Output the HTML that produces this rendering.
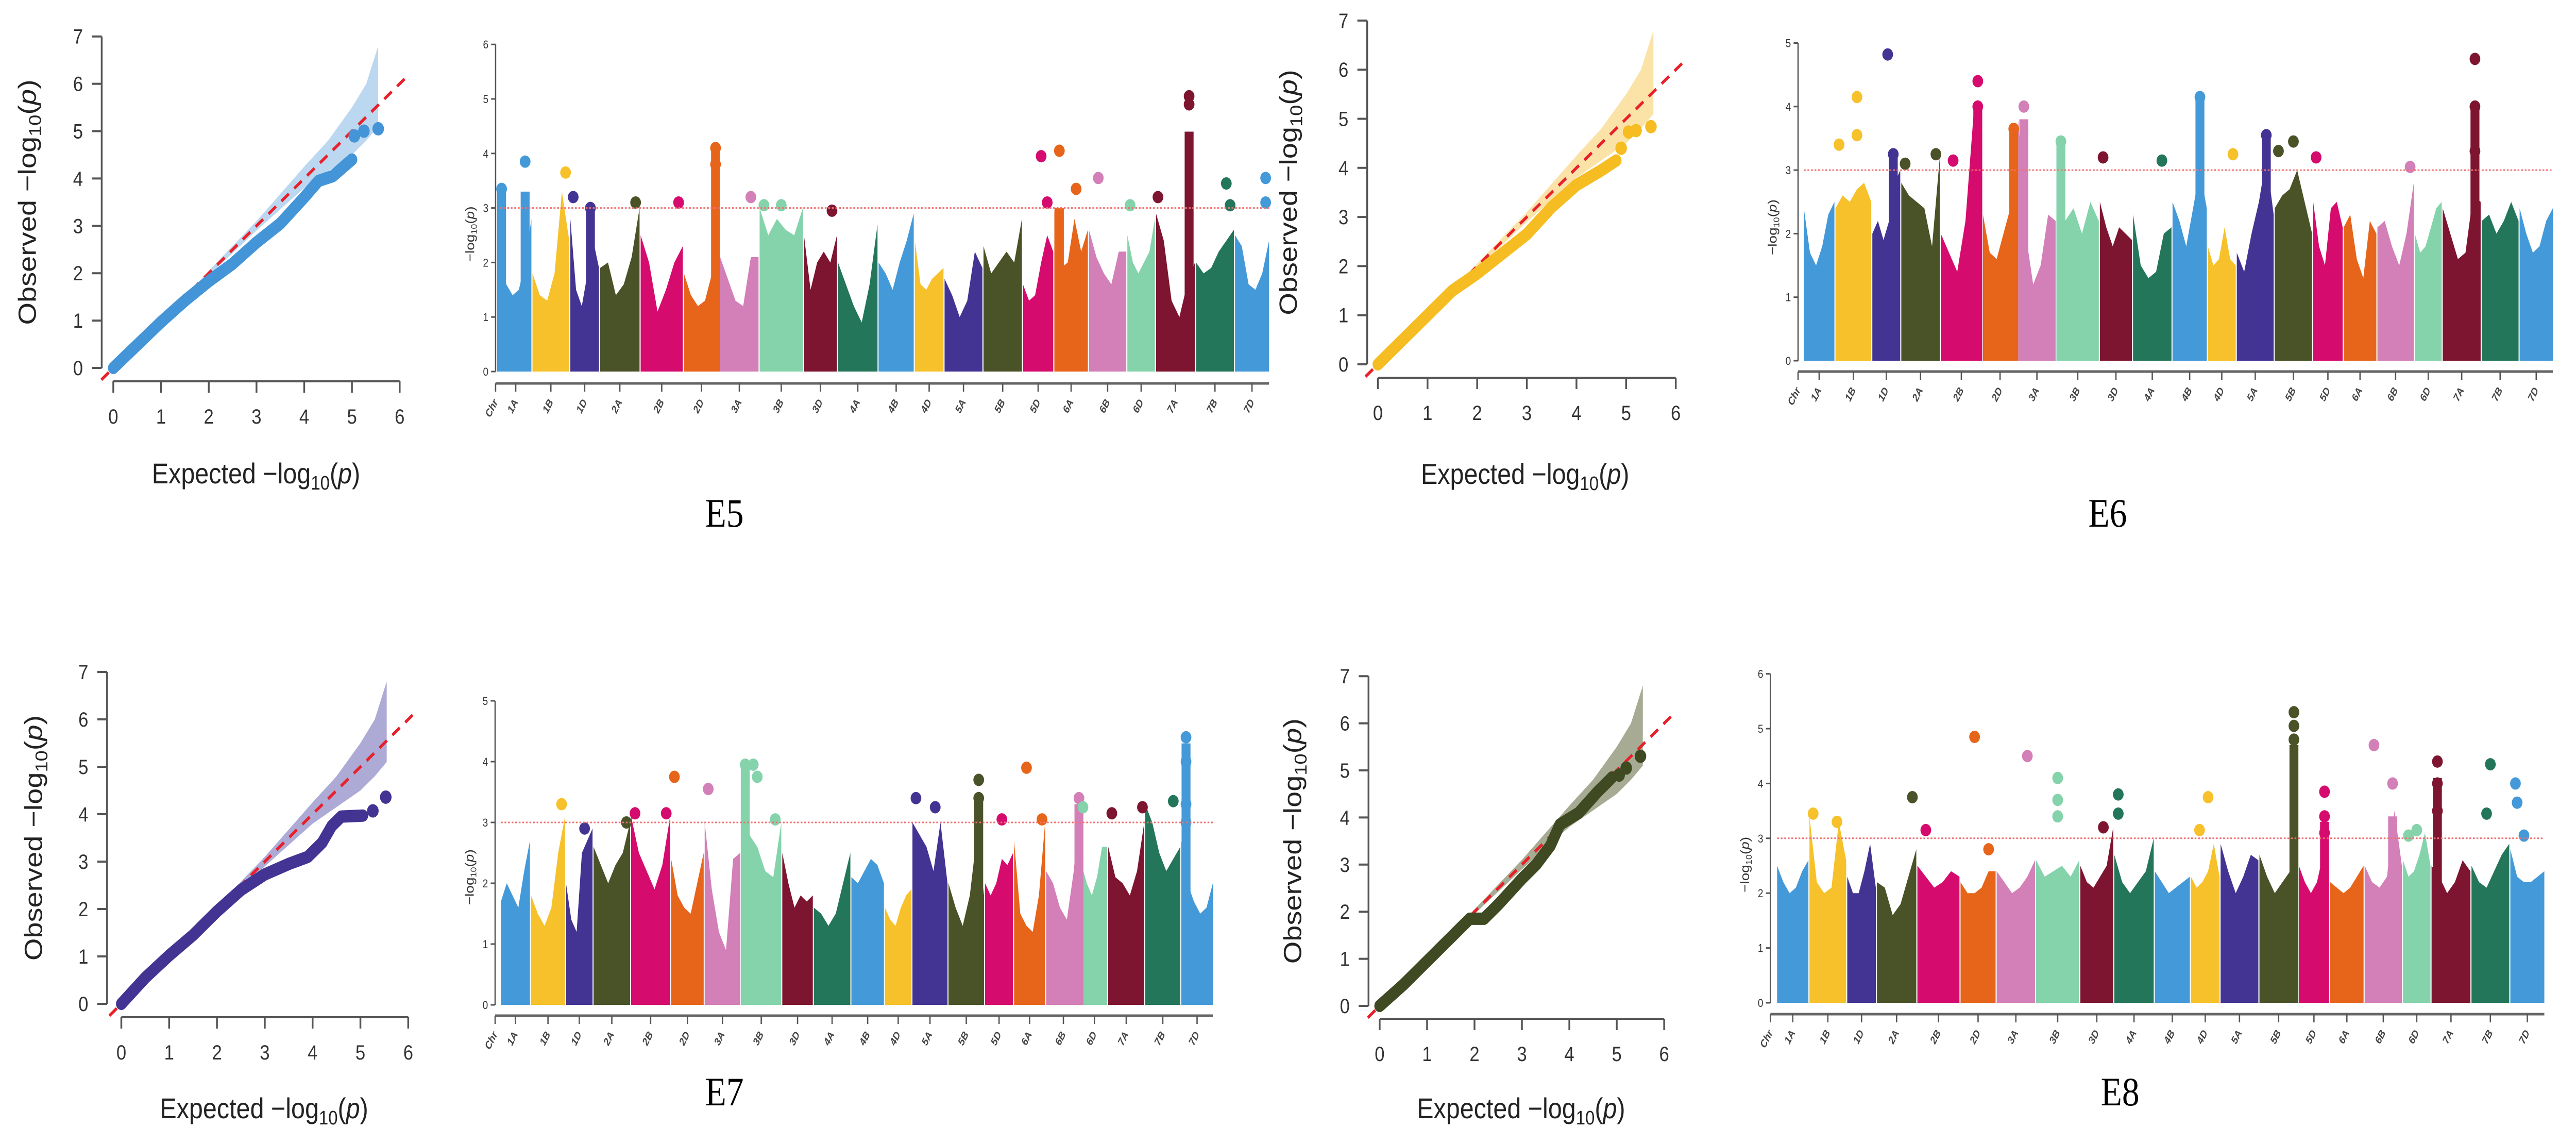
<!DOCTYPE html>
<html><head><meta charset="utf-8"><style>
html,body{margin:0;padding:0;background:#fff;width:100%;height:100%;overflow:hidden;}
svg{display:block;position:absolute;left:0;top:0;width:100vw;height:100vh;}
text{font-family:"Liberation Sans",sans-serif;}
</style></head><body>
<svg id="fig" viewBox="0 0 5775 2220" preserveAspectRatio="none" xmlns="http://www.w3.org/2000/svg"></svg>
<script>
const chrNames=["1A","1B","1D","2A","2B","2D","3A","3B","3D","4A","4B","4D","5A","5B","5D","6A","6B","6D","7A","7B","7D"];
const chrLen=[58,68,53,73,78,65,71,80,61,73,65,53,70,71,56,62,69,51,72,70,63];
const chrColors=["#4499d8","#f6c12a","#433494","#4a5228","#d60b6e","#e6651a","#d37fb8","#84d3ab","#7e1530","#23765a"];
const threshold=3;

// ---- E5 manhattan ----
const e5Profile=[[2.2,1.6,1.4,1.5,2.0,2.8],[1.8,1.4,1.3,1.8,3.3,2.4],[2.8,1.5,1.2,1.8,2.4,1.9],[1.9,2.0,1.4,1.6,2.1,3.0],[2.5,2.0,1.1,1.5,2.0,2.3],[1.8,1.4,1.2,1.3,1.8,3.0],[2.1,1.7,1.3,1.2,2.1,2.1],[3.0,2.5,2.8,2.6,2.5,3.0],[2.5,1.5,2.0,2.2,2.0,2.5],[2.0,1.6,1.2,0.9,1.6,2.7],[2.0,1.8,1.5,2.0,2.4,2.9],[2.4,1.6,1.5,1.7,1.8,1.9],[1.7,1.4,1.0,1.3,2.2,1.9],[2.3,1.8,2.0,2.2,2.0,2.8],[1.6,1.3,1.4,2.0,2.5,2.2],[3.0,1.9,2.0,2.8,2.2,2.6],[2.6,2.1,1.8,1.6,2.2,2.2],[2.5,2.0,1.8,2.0,2.2,2.8],[2.9,2.4,1.3,1.0,1.6,2.0],[2.0,1.8,1.9,2.2,2.4,2.6],[2.5,2.3,1.6,1.5,1.8,2.4]];
const e5Dots=[[0,0.05,3.35],[0,0.8,3.85],[1,0.9,3.65],[2,0.1,3.2],[2,0.7,3.0],[3,0.9,3.1],[4,0.9,3.1],[5,0.9,4.1],[5,0.9,3.8],[6,0.8,3.2],[7,0.1,3.05],[7,0.5,3.05],[8,0.85,2.95],[14,0.6,3.95],[14,0.8,3.1],[15,0.15,4.05],[15,0.65,3.35],[16,0.25,3.55],[17,0.1,3.05],[18,0.05,3.2],[18,0.85,5.05],[18,0.85,4.9],[19,0.8,3.45],[19,0.9,3.05],[20,0.9,3.55],[20,0.9,3.1]];
const e5Spikes=[[0,0.05,3.3],[0,0.8,3.3],[2,0.7,3.0],[5,0.9,4.1],[18,0.85,4.4],[15,0.15,3.0]];
// ---- E6 manhattan ----
const e6Profile=[[2.4,1.7,1.5,1.8,2.3,2.5],[2.4,2.6,2.5,2.7,2.8,2.5],[2.0,2.2,1.9,2.2,2.8,3.0],[2.8,2.6,2.5,2.4,1.8,3.2],[2.0,1.7,1.4,2.2,3.9,2.0],[2.3,1.7,1.6,2.0,2.4,3.5],[3.8,2.0,1.2,1.5,2.3,2.2],[3.4,2.2,2.4,2.0,2.5,2.2],[2.5,2.1,1.8,2.1,2.0,1.9],[2.3,1.5,1.3,1.4,2.0,2.1],[2.5,2.2,1.8,2.4,3.0,2.4],[1.8,1.5,1.6,2.1,1.6,1.5],[1.7,1.4,2.0,2.5,3.2,2.3],[2.4,2.6,2.7,3.0,2.5,2.0],[2.5,1.8,1.5,2.4,2.5,2.1],[2.1,2.3,1.6,1.3,2.2,2.0],[2.1,2.2,1.8,1.5,2.0,2.8],[2.0,1.7,1.8,2.1,2.4,2.5],[2.4,2.0,1.6,1.7,2.6,2.5],[2.2,2.3,2.0,2.2,2.5,2.2],[2.4,2.0,1.7,1.8,2.2,2.4]];
const e6Dots=[[1,0.1,3.4],[1,0.6,3.55],[1,0.6,4.15],[2,0.55,4.82],[2,0.75,3.25],[3,0.1,3.1],[3,0.9,3.25],[4,0.3,3.15],[4,0.9,4.4],[4,0.9,4.0],[5,0.9,3.65],[6,0.15,4.0],[7,0.1,3.45],[8,0.1,3.2],[9,0.75,3.15],[10,0.8,4.15],[11,0.9,3.25],[12,0.8,3.55],[13,0.1,3.3],[13,0.5,3.45],[14,0.1,3.2],[16,0.9,3.05],[18,0.85,4.75],[18,0.85,4.0],[18,0.85,3.3]];
const e6Spikes=[[4,0.9,4.0],[6,0.15,3.8],[10,0.8,4.1],[12,0.8,3.5],[18,0.85,4.0],[7,0.1,3.45],[2,0.75,3.2],[5,0.9,3.6]];
// ---- E7 manhattan ----
const e7Profile=[[1.7,2.0,1.8,1.6,2.2,2.7],[1.8,1.5,1.3,1.6,2.5,3.1],[2.0,1.4,1.2,2.5,2.7,2.9],[2.6,2.3,2.0,2.3,2.5,3.0],[3.1,2.5,2.2,1.9,2.3,3.1],[2.4,1.8,1.6,1.5,2.0,2.5],[3.0,1.9,1.2,0.9,2.4,2.5],[3.9,2.8,2.6,2.2,2.1,3.0],[2.5,2.0,1.6,1.8,1.7,1.8],[1.6,1.5,1.3,1.5,2.0,2.5],[2.1,2.0,2.2,2.4,2.3,2.0],[1.6,1.4,1.3,1.6,1.8,1.9],[3.0,2.8,2.6,2.2,3.0,2.0],[2.0,1.6,1.3,1.8,2.8,1.8],[2.0,1.8,2.0,2.4,2.3,2.5],[2.7,1.5,1.3,1.2,1.8,3.0],[2.2,2.0,1.6,1.4,2.2,3.4],[2.3,2.0,1.8,2.1,2.6,2.6],[2.6,2.1,2.0,1.8,2.2,3.0],[3.3,3.0,2.5,2.2,2.4,2.6],[2.7,2.0,1.7,1.5,1.6,2.0]];
const e7Dots=[[1,0.9,3.3],[2,0.7,2.9],[3,0.9,3.0],[4,0.1,3.15],[4,0.9,3.15],[5,0.1,3.75],[6,0.1,3.55],[7,0.1,3.95],[7,0.3,3.95],[7,0.4,3.75],[7,0.85,3.05],[12,0.1,3.4],[12,0.65,3.25],[13,0.85,3.7],[13,0.85,3.4],[14,0.6,3.05],[15,0.4,3.9],[15,0.9,3.05],[16,0.95,3.4],[17,0.05,3.25],[18,0.1,3.15],[18,0.95,3.25],[19,0.8,3.35],[20,0.15,4.4],[20,0.15,4.0],[20,0.15,3.3],[20,0.15,3.0]];
const e7Spikes=[[7,0.1,3.9],[20,0.15,4.3],[13,0.85,3.4],[16,0.95,3.3]];
// ---- E8 manhattan ----
const e8Profile=[[2.5,2.2,2.0,2.1,2.4,2.6],[3.4,2.2,2.0,2.1,3.3,2.6],[2.3,2.0,2.0,2.4,2.9,2.1],[2.2,2.1,1.6,1.8,2.3,2.8],[2.5,2.3,2.1,2.2,2.4,2.3],[2.2,2.0,2.0,2.1,2.4,2.4],[2.4,2.2,2.0,2.1,2.3,2.6],[2.6,2.3,2.4,2.5,2.3,2.6],[2.5,2.2,2.1,2.3,2.5,3.2],[2.7,2.2,2.0,2.2,2.4,3.0],[2.4,2.2,2.0,2.1,2.2,2.3],[2.3,2.1,2.2,2.4,2.9,2.3],[2.9,2.4,2.0,2.3,2.7,2.6],[2.7,2.3,2.0,2.2,2.4,2.7],[2.5,2.2,2.0,2.2,2.7,2.5],[2.2,2.1,2.0,2.1,2.3,2.5],[2.5,2.2,2.1,2.3,3.5,2.5],[2.6,2.3,2.4,2.7,3.1,2.5],[2.5,2.3,2.0,2.2,2.6,2.4],[2.5,2.2,2.1,2.4,2.7,2.9],[2.8,2.3,2.2,2.2,2.3,2.4]];
const e8Dots=[[1,0.1,3.45],[1,0.75,3.3],[3,0.9,3.75],[4,0.2,3.15],[5,0.4,4.85],[5,0.8,2.8],[6,0.8,4.5],[7,0.5,4.1],[7,0.5,3.7],[7,0.5,3.4],[8,0.7,3.2],[9,0.1,3.8],[9,0.1,3.45],[11,0.3,3.15],[11,0.6,3.75],[13,0.9,5.3],[13,0.9,5.05],[13,0.9,4.8],[14,0.85,3.85],[14,0.85,3.4],[14,0.85,3.1],[16,0.25,4.7],[16,0.75,4.0],[17,0.2,3.05],[17,0.5,3.15],[18,0.15,4.4],[18,0.15,4.0],[18,0.15,3.5],[19,0.5,4.35],[19,0.4,3.45],[20,0.15,4.0],[20,0.2,3.65],[20,0.4,3.05]];
const e8Spikes=[[13,0.9,4.7],[18,0.15,4.1],[14,0.85,3.3],[16,0.75,3.4]];

// ---- QQ data ----
const qqE5Exp=[0,1,1.5,2,2.5,3,3.5,4,4.3,4.6,5];
const qqE5Obs=[0,0.97,1.42,1.83,2.2,2.65,3.05,3.6,3.95,4.05,4.4];
const qqE5Top=[[5.05,4.9],[5.25,5.0],[5.55,5.05]];
const qqE6Exp=[0,1,1.5,2,2.5,3,3.5,4,4.5,4.8];
const qqE6Obs=[0,1.0,1.5,1.85,2.25,2.65,3.2,3.65,3.95,4.15];
const qqE6Top=[[4.9,4.4],[5.05,4.73],[5.2,4.76],[5.5,4.84]];
const qqE7Exp=[0,0.5,1,1.5,2,2.5,3,3.5,3.9,4.2,4.4,4.6,5.05];
const qqE7Obs=[0,0.55,1.02,1.45,1.95,2.4,2.73,2.95,3.1,3.4,3.75,3.95,3.97];
const qqE7Top=[[5.26,4.07],[5.53,4.36]];
const qqE8Exp=[0,0.5,1,1.5,1.9,2.2,2.5,3,3.3,3.6,3.8,4.2,4.6,4.9];
const qqE8Obs=[0,0.45,0.95,1.45,1.85,1.85,2.15,2.7,3.0,3.4,3.85,4.1,4.55,4.85];
const qqE8Top=[[5.05,4.9],[5.2,5.05],[5.5,5.3]];
const bandExp=[1.5,2,3,4,4.5,5,5.3,5.55];
const bandUpper=[1.5,2.05,3.1,4.25,4.8,5.5,6.0,6.8];
const bandLower=[1.5,1.95,2.9,3.8,4.15,4.5,4.8,5.1];

const NS="http://www.w3.org/2000/svg";
const fig=document.getElementById('fig');
function mk(tag,attrs,parent){const e=document.createElementNS(NS,tag);for(const k in attrs)e.setAttribute(k,attrs[k]);(parent||fig).appendChild(e);return e;}

function drawManhattan(cfg,profile,dots,spikes){
  const g=mk('g',{});
  
  
  const gap=2;
  const total=chrLen.reduce((a,b)=>a+b,0)+gap*(chrLen.length-1);
  const sx=v=>cfg.px0+(v/total)*(cfg.px1-cfg.px0);
  const sy=v=>cfg.y0-v*cfg.unit;
  let cum=0;const bounds=[];
  chrLen.forEach((L,i)=>{bounds.push([sx(cum),sx(cum+L)]);cum+=L+gap;});
  bounds.forEach((b,i)=>{
    const col=chrColors[i%chrColors.length];
    const prof=profile[i];const n=prof.length;
    let pts=[[b[0],sy(0)]];
    prof.forEach((v,k)=>pts.push([b[0]+k*(b[1]-b[0])/(n-1),sy(v)]));
    pts.push([b[1],sy(0)]);
    const p=mk('polygon',{points:pts.map(q=>q.join(',')).join(' '),fill:col},g);
    
    
  });
  spikes.forEach(s=>{
    const b=bounds[s[0]];const x=b[0]+s[1]*(b[1]-b[0]);
    const r=mk('rect',{x:x-cfg.r,y:sy(s[2]),width:cfg.r*2,height:sy(0)-sy(s[2]),fill:chrColors[s[0]%10]},g);
    
    
  });
  dots.forEach(d=>{
    const b=bounds[d[0]];const x=b[0]+d[1]*(b[1]-b[0]);
    const c=mk('circle',{cx:x,cy:sy(d[2]),r:cfg.r+2,fill:chrColors[d[0]%10]},g);
    
    
  });
  const th=mk('line',{x1:cfg.px0,x2:cfg.px1,y1:sy(threshold),y2:sy(threshold),stroke:'#f07070','stroke-width':3,'stroke-dasharray':'4 4'},g);
  
  
  const ya=mk('line',{x1:cfg.ax,x2:cfg.ax,y1:sy(0),y2:sy(cfg.ymax),stroke:'#555','stroke-width':3},g);
  
  
  for(let t=0;t<=cfg.ymax;t++){
    mk('line',{x1:cfg.ax-10,x2:cfg.ax,y1:sy(t),y2:sy(t),stroke:'#555','stroke-width':3},g);
    const tx=mk('text',{x:cfg.ax-16,y:sy(t)+8,'font-size':22,'text-anchor':'end',fill:'#333'},g);
    tx.textContent=t;
    
    
  }
  const yt=mk('text',{x:0,y:0,'font-size':28,'text-anchor':'middle',fill:'#333',transform:`translate(${cfg.ax-48},${sy(cfg.ymax*0.42)}) rotate(-90)`},g);
  yt.innerHTML='−log<tspan font-size="18" dy="6">10</tspan><tspan dy="-6">(</tspan><tspan font-style="italic">p</tspan>)';
  
  
  const xa=mk('line',{x1:cfg.ax,x2:cfg.px1,y1:cfg.axisY,y2:cfg.axisY,stroke:'#666','stroke-width':5},g);
  
  
  const ticks=[['Chr',cfg.ax]].concat(bounds.map((b,i)=>[chrNames[i],(b[0]+b[1])/2]));
  ticks.forEach(t=>{
    mk('line',{x1:t[1],x2:t[1],y1:cfg.axisY,y2:cfg.axisY+16,stroke:'#555','stroke-width':3},g);
    const tx=mk('text',{x:0,y:0,'font-size':21,'font-style':'italic','font-weight':'bold','text-anchor':'end',fill:'#444',transform:`translate(${t[1]+6},${cfg.axisY+36}) rotate(-60)`},g);
    tx.textContent=t[0];
    
    
  });
  const lab=mk('text',{x:cfg.lx,y:cfg.ly+26,'font-size':78,'text-anchor':'middle',fill:'#000',style:'font-family:"Liberation Serif",serif'},g);
  lab.textContent=cfg.label;
  
  
}

function drawQQ(cfg,ex,ob,top){
  const g=mk('g',{});
  
  
  const sx=v=>cfg.x0+v*cfg.xu;
  const sy=v=>cfg.y0-v*cfg.yu;
  let bp=bandExp.map((e,i)=>[sx(e),sy(bandUpper[i])]);
  for(let i=bandExp.length-1;i>=0;i--)bp.push([sx(bandExp[i]),sy(bandLower[i])]);
  const band=mk('polygon',{points:bp.map(q=>q.join(',')).join(' '),fill:cfg.band},g);
  
  
  const diag=mk('line',{x1:sx(-0.25),y1:sy(-0.25),x2:sx(6.2),y2:sy(6.2),stroke:'#e8202a','stroke-width':6,'stroke-dasharray':'22 16'},g);
  
  
  const pl=mk('polyline',{points:ex.map((e,i)=>sx(e)+','+sy(ob[i])).join(' '),fill:'none',stroke:cfg.col,'stroke-width':24,'stroke-linecap':'round','stroke-linejoin':'round'},g);
  
  
  top.forEach(t=>{
    const c=mk('circle',{cx:sx(t[0]),cy:sy(t[1]),r:13,fill:cfg.col},g);
    
    
  });
  const ya=mk('line',{x1:cfg.ax,x2:cfg.ax,y1:sy(0),y2:sy(7),stroke:'#555','stroke-width':4},g);
  
  
  for(let t=0;t<=7;t++){
    mk('line',{x1:cfg.ax-22,x2:cfg.ax,y1:sy(t),y2:sy(t),stroke:'#555','stroke-width':4},g);
    const tx=mk('text',{x:cfg.ax-42,y:sy(t)+14,'font-size':40,'text-anchor':'end',fill:'#333'},g);
    tx.textContent=t;
    
    
  }
  const xa=mk('line',{x1:sx(0),x2:sx(6),y1:cfg.xaY,y2:cfg.xaY,stroke:'#555','stroke-width':4},g);
  
  
  for(let t=0;t<=6;t++){
    mk('line',{x1:sx(t),x2:sx(t),y1:cfg.xaY,y2:cfg.xaY+22,stroke:'#555','stroke-width':4},g);
    const tx=mk('text',{x:sx(t),y:cfg.xaY+82,'font-size':40,'text-anchor':'middle',fill:'#333'},g);
    tx.textContent=t;
    
    
  }
  const xt=mk('text',{x:cfg.xlx,y:cfg.xly+20,'font-size':56,'text-anchor':'middle',fill:'#222'},g);
  xt.innerHTML='Expected  −log<tspan font-size="38" dy="12">10</tspan><tspan dy="-12">(</tspan><tspan font-style="italic">p</tspan>)';
  
  
  const yt=mk('text',{x:0,y:0,'font-size':56,'text-anchor':'middle',fill:'#222',transform:`translate(${cfg.ylx+20},${sy(3.5)}) rotate(-90)`},g);
  yt.innerHTML='Observed  −log<tspan font-size="38" dy="12">10</tspan><tspan dy="-12">(</tspan><tspan font-style="italic">p</tspan>)';
  
  
}

drawQQ({name:'qq-plot-e5',ax:228,y0:714,yu:91.9,x0:254,xu:107,xaY:740,xlx:574,xly:918,ylx:60,col:'#4495d8',band:'#bcd7f0'},qqE5Exp,qqE5Obs,qqE5Top);
drawQQ({name:'qq-plot-e6',ax:3065,y0:707,yu:95.3,x0:3089,xu:111.3,xaY:733,xlx:3419,xly:919,ylx:2887,col:'#f6bd22',band:'#fbe3a8'},qqE6Exp,qqE6Obs,qqE6Top);
drawQQ({name:'qq-plot-e7',ax:240,y0:1948,yu:92,x0:272,xu:107.2,xaY:1974,xlx:592,xly:2150,ylx:74,col:'#433494',band:'#aeaad6'},qqE7Exp,qqE7Obs,qqE7Top);
drawQQ({name:'qq-plot-e8',ax:3068,y0:1952,yu:91.4,x0:3093,xu:106.3,xaY:1977,xlx:3410,xly:2150,ylx:2897,col:'#3f4a22',band:'#a7ab94'},qqE8Exp,qqE8Obs,qqE8Top);

drawManhattan({name:'manhattan-e5',ax:1111,y0:721,unit:105.8,ymax:6,px0:1121,px1:2845,axisY:744,r:10,lx:1624,ly:996,label:'E5'},e5Profile,e5Dots,e5Spikes);
drawManhattan({name:'manhattan-e6',ax:4031,y0:700,unit:123.3,ymax:5,px0:4044,px1:5723,axisY:721,r:10,lx:4725,ly:996,label:'E6'},e6Profile,e6Dots,e6Spikes);
drawManhattan({name:'manhattan-e7',ax:1110,y0:1950,unit:118,ymax:5,px0:1123,px1:2719,axisY:1971,r:10,lx:1624,ly:2119,label:'E7'},e7Profile,e7Dots,e7Spikes);
drawManhattan({name:'manhattan-e8',ax:3969,y0:1946,unit:106.4,ymax:6,px0:3984,px1:5704,axisY:1968,r:10,lx:4753,ly:2119,label:'E8'},e8Profile,e8Dots,e8Spikes);
</script>
</body></html>
